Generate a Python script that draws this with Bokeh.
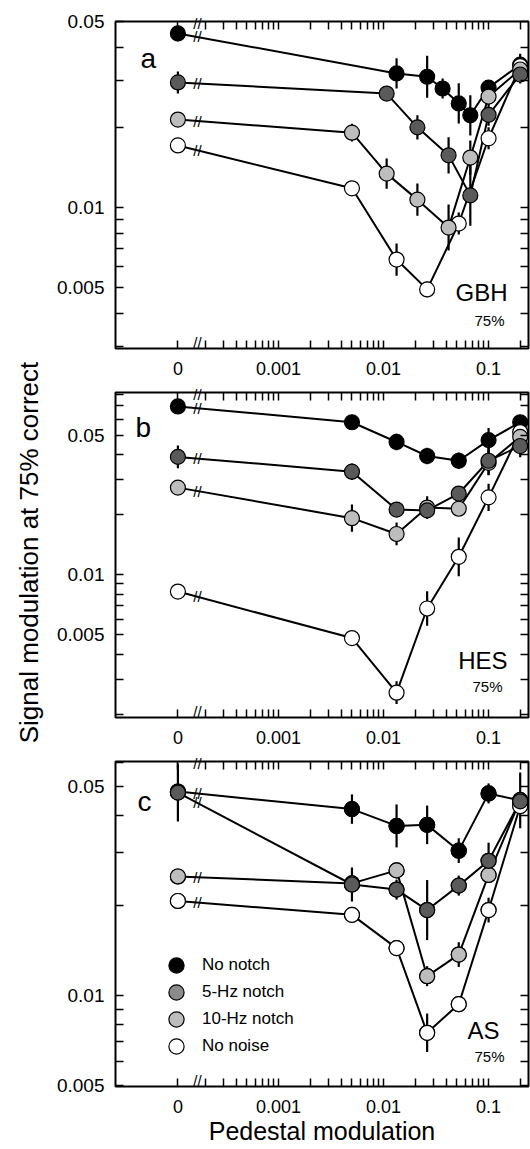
import math
from bokeh.plotting import figure
from bokeh.models import (ColumnDataSource, FixedTicker, LogAxis, Label, Legend, LegendItem,
                          CustomJSTickFormatter, Range1d)
from bokeh.layouts import row, column
from bokeh.embed import file_html
from bokeh.resources import INLINE
from bokeh.core.properties import value

FONT = "Liberation Sans"

# ---------------- data ----------------
ZERO = 1.1e-4          # plotted position of the "0" pedestal (broken axis)
BREAK_X = 1.69e-4      # position of the axis-break marks

SERIES_NAMES = ["No notch", "5-Hz notch", "10-Hz notch", "No noise"]
SERIES_FILL = ["#000000", "#5a5a5a", "#bdbdbd", "#ffffff"]
LEGEND_FILL = ["#000000", "#8c8c8c", "#bdbdbd", "#ffffff"]

X_TITLE = "Pedestal modulation"
Y_TITLE = "Signal modulation at 75% correct"

X_TICK_VALUES = [ZERO, 0.001, 0.01, 0.1]
X_TICK_LABELS = ["0", "0.001", "0.01", "0.1"]
X_MINOR_TICKS = [0.0002, 0.0003, 0.0004, 0.0005, 0.0006, 0.0007, 0.0008, 0.0009,
                 0.002, 0.003, 0.004, 0.005, 0.006, 0.007, 0.008, 0.009,
                 0.02, 0.03, 0.04, 0.05, 0.06, 0.07, 0.08, 0.09, 0.2]
Y_TICK_VALUES = [0.005, 0.01, 0.05]
Y_TICK_LABELS = ["0.005", "0.01", "0.05"]
Y_MINOR_A = [0.003, 0.004, 0.006, 0.007, 0.008, 0.009, 0.02, 0.03, 0.04]
Y_MINOR_B = [0.002, 0.003, 0.004, 0.006, 0.007, 0.008, 0.009, 0.02, 0.03, 0.04, 0.06, 0.07, 0.08]
Y_MINOR_C = [0.006, 0.007, 0.008, 0.009, 0.02, 0.03, 0.04, 0.06]

# Panel a (GBH)
A_X_NONOTCH = [ZERO, 0.0133, 0.026, 0.0365, 0.052, 0.067, 0.1, 0.2]
A_Y_NONOTCH = [0.0451, 0.0319, 0.031, 0.028, 0.0246, 0.0222, 0.0282, 0.0344]
A_E_NONOTCH = [1.07, 1.14, 1.2, 1.09, 1.19, 1.19, 1.05, 1.1]
A_X_5HZ = [ZERO, 0.0107, 0.021, 0.0416, 0.067, 0.1, 0.2]
A_Y_5HZ = [0.0295, 0.0268, 0.020, 0.0157, 0.0111, 0.0223, 0.0316]
A_E_5HZ = [1.1, 1.05, 1.11, 1.17, 1.3, 1.1, 1.08]
A_X_10HZ = [ZERO, 0.005, 0.0107, 0.021, 0.0416, 0.067, 0.1, 0.2]
A_Y_10HZ = [0.0214, 0.0191, 0.0134, 0.0107, 0.0084, 0.0154, 0.0261, 0.033]
A_E_10HZ = [1.05, 1.08, 1.14, 1.15, 1.22, 1.16, 1.05, 1.05]
A_X_NONOISE = [ZERO, 0.005, 0.0133, 0.026, 0.052, 0.1, 0.2]
A_Y_NONOISE = [0.0171, 0.0118, 0.00637, 0.00492, 0.0087, 0.0182, 0.034]
A_E_NONOISE = [1.03, 1.05, 1.15, 1.07, 1.1, 1.1, 1.05]

# Panel b (HES)
B_X = [ZERO, 0.005, 0.0133, 0.026, 0.052, 0.1, 0.2]
B_Y_NONOTCH = [0.0696, 0.058, 0.0462, 0.0393, 0.0372, 0.0472, 0.058]
B_E_NONOTCH = [1.06, 1.05, 1.1, 1.1, 1.1, 1.15, 1.08]
B_Y_5HZ = [0.0389, 0.0328, 0.0212, 0.0210, 0.0255, 0.0372, 0.0441]
B_E_5HZ = [1.14, 1.1, 1.05, 1.05, 1.05, 1.18, 1.14]
B_Y_10HZ = [0.0273, 0.0192, 0.016, 0.0217, 0.0214, 0.0363, 0.049]
B_E_10HZ = [1.05, 1.17, 1.14, 1.14, 1.05, 1.15, 1.05]
B_Y_NONOISE = [0.00824, 0.00482, 0.00257, 0.00678, 0.0123, 0.0244, 0.0518]
B_E_NONOISE = [1.03, 1.05, 1.14, 1.22, 1.25, 1.17, 1.05]

# Panel c (AS)
C_X = [ZERO, 0.005, 0.0133, 0.026, 0.052, 0.1, 0.2]
C_Y_NONOTCH = [0.0481, 0.0420, 0.0369, 0.0372, 0.0305, 0.0474, 0.0449]
C_E_NONOTCH = [1.05, 1.12, 1.18, 1.16, 1.1, 1.08, 1.24]
C_Y_5HZ = [0.0477, 0.0235, 0.0226, 0.0193, 0.0233, 0.0282, 0.0446]
C_E_5HZ = [1.25, 1.14, 1.08, 1.26, 1.08, 1.15, 1.05]
C_Y_10HZ = [0.0250, 0.0237, 0.0262, 0.0116, 0.0137, 0.0253, 0.045]
C_E_10HZ = [1.05, 1.05, 1.05, 1.08, 1.1, 1.05, 1.05]
C_Y_NONOISE = [0.0207, 0.0186, 0.0144, 0.0075, 0.00935, 0.0193, 0.0430]
C_E_NONOISE = [1.05, 1.05, 1.06, 1.16, 1.06, 1.1, 1.05]

# ---------------- layout ----------------
TITLE_W = 53
PANEL_W = 477
BORDER_L = 62
BORDER_R = 2
XMIN, XMAX = 2.8e-5, 0.24
PAGE_FRAME_L, PAGE_FRAME_R = 115, 528


def px2x(px):
    l0, l1 = math.log10(XMIN), math.log10(XMAX)
    return 10 ** (l0 + (px - PAGE_FRAME_L) / (PAGE_FRAME_R - PAGE_FRAME_L) * (l1 - l0))


def py2y(py, top, bottom, ymin, ymax):
    l0, l1 = math.log10(ymin), math.log10(ymax)
    return 10 ** (l1 - (py - top) / (bottom - top) * (l1 - l0))


def tick_formatter(vals, labs):
    return CustomJSTickFormatter(args=dict(vals=list(vals), labs=list(labs)), code="""
        for (let i = 0; i < vals.length; i++) {
            if (Math.abs(Math.log(vals[i] / tick)) < 1e-6) { return labs[i]; }
        }
        return '';
    """)


def style_axis(ax, size):
    ax.axis_line_color = None
    ax.major_tick_in = 8
    ax.major_tick_out = 0
    ax.minor_tick_in = 8
    ax.minor_tick_out = 0
    ax.major_tick_line_width = 1.5
    ax.minor_tick_line_width = 1.5
    ax.major_tick_line_color = "black"
    ax.minor_tick_line_color = "black"
    ax.major_label_text_font = FONT
    ax.major_label_text_font_size = size
    ax.major_label_text_color = "black"


def make_panel(height, btop, bbot, ymin, ymax, yminor, series, letter, subj, texts_px,
               page_top, page_bottom, legend_fills=None, x_title=None):
    p = figure(width=PANEL_W, height=height, x_axis_type="log", y_axis_type="log",
               x_range=Range1d(XMIN, XMAX), y_range=Range1d(ymin, ymax),
               toolbar_location=None, output_backend="svg", title=None,
               min_border_left=BORDER_L, min_border_right=BORDER_R,
               min_border_top=btop, min_border_bottom=bbot,
               outline_line_color="black", outline_line_width=2,
               background_fill_color="white", border_fill_color="white")
    p.grid.visible = False

    xa = p.xaxis[0]
    xa.ticker = FixedTicker(ticks=X_TICK_VALUES, minor_ticks=X_MINOR_TICKS)
    xa.formatter = tick_formatter(X_TICK_VALUES, X_TICK_LABELS)
    style_axis(xa, "18px")
    xa.major_label_standoff = 13
    if x_title:
        xa.axis_label = x_title
        xa.axis_label_text_font = FONT
        xa.axis_label_text_font_size = "25px"
        xa.axis_label_text_font_style = "normal"
        xa.axis_label_text_color = "black"
        xa.axis_label_standoff = 1

    ya = p.yaxis[0]
    ya.ticker = FixedTicker(ticks=Y_TICK_VALUES, minor_ticks=yminor)
    ya.formatter = tick_formatter(Y_TICK_VALUES, Y_TICK_LABELS)
    style_axis(ya, "19px")
    ya.major_label_standoff = 11

    # top axis: inward minor ticks, and the axis-break mark "//" as its only label
    top_ax = LogAxis(ticker=FixedTicker(ticks=[BREAK_X], minor_ticks=X_TICK_VALUES + X_MINOR_TICKS),
                     formatter=tick_formatter([BREAK_X], ["//"]))
    style_axis(top_ax, "15px")
    top_ax.major_tick_in = 0
    top_ax.major_label_standoff = -10
    p.add_layout(top_ax, "above")
    right_ax = LogAxis(ticker=FixedTicker(ticks=[], minor_ticks=Y_TICK_VALUES + yminor))
    style_axis(right_ax, "0px")
    right_ax.major_label_standoff = 0
    p.add_layout(right_ax, "right")

    # connecting lines
    for s in series:
        p.line(s["x"], s["y"], line_color="black", line_width=2)
    # error bars
    for s in series:
        src = ColumnDataSource(dict(x=s["x"], lo=[y / e for y, e in zip(s["y"], s["e"])],
                                    hi=[y * e for y, e in zip(s["y"], s["e"])]))
        p.segment(x0="x", y0="lo", x1="x", y1="hi", source=src, line_color="black", line_width=2.2)
    # break marks on each series line, and on the bottom frame edge
    bx, by = [], []
    for s in series:
        xs, ys = s["x"], s["y"]
        t = (math.log10(BREAK_X) - math.log10(xs[0])) / (math.log10(xs[1]) - math.log10(xs[0]))
        ly = math.log10(ys[0]) + t * (math.log10(ys[1]) - math.log10(ys[0]))
        bx.append(BREAK_X)
        by.append(10 ** ly)
    bx.append(BREAK_X)
    by.append(py2y(page_bottom - 6, page_top, page_bottom, ymin, ymax))
    p.text(x=bx, y=by, text=["//"] * len(bx), text_font=value(FONT), text_font_size=value("15px"),
           text_align="center", text_baseline="middle", text_color="black")

    # legend-key renderers (hidden beneath the real markers)
    legend_renderers = {}
    if legend_fills is not None:
        for s in series:
            legend_renderers[s["name"]] = p.scatter(
                s["x"], s["y"], marker="circle", size=15, fill_color=legend_fills[s["name"]],
                line_color="black", line_width=1.2)
    # markers
    for s in series:
        p.scatter(s["x"], s["y"], marker="circle", size=15, fill_color=s["fill"],
                  line_color="black", line_width=1.2)

    conv = lambda py: py2y(py, page_top, page_bottom, ymin, ymax)

    def add_text(px_, baseline_py, text, fs, align):
        # anchor at the middle of the text box (baseline - 0.346 em)
        p.add_layout(Label(x=px2x(px_), y=conv(baseline_py - 0.346 * fs), text=text, text_font=FONT,
                           text_font_size=f"{fs}px", text_align=align, text_baseline="middle",
                           text_color="black"))

    (lx, lyp), (sx, syp), (px_, pyp) = texts_px
    add_text(lx, lyp, letter, 28, "left")
    add_text(sx, syp, subj, 24, "right")
    add_text(px_, pyp, "75%", 15, "right")
    return p, legend_renderers


def series_list(x_lists, y_lists, e_lists):
    order = [0, 3, 2, 1]   # draw order: no notch, no noise, 10 Hz, 5 Hz
    return [dict(x=x_lists[i], y=y_lists[i], e=e_lists[i], fill=SERIES_FILL[i], name=SERIES_NAMES[i])
            for i in order]


sa = series_list([A_X_NONOTCH, A_X_5HZ, A_X_10HZ, A_X_NONOISE],
                 [A_Y_NONOTCH, A_Y_5HZ, A_Y_10HZ, A_Y_NONOISE],
                 [A_E_NONOTCH, A_E_5HZ, A_E_10HZ, A_E_NONOISE])
sb = series_list([B_X] * 4, [B_Y_NONOTCH, B_Y_5HZ, B_Y_10HZ, B_Y_NONOISE],
                 [B_E_NONOTCH, B_E_5HZ, B_E_10HZ, B_E_NONOISE])
sc = series_list([C_X] * 4, [C_Y_NONOTCH, C_Y_5HZ, C_Y_10HZ, C_Y_NONOISE],
                 [C_E_NONOTCH, C_E_5HZ, C_E_10HZ, C_E_NONOISE])

H_A, H_B = 382, 369
H_C = 1149 - H_A - H_B
fa, _ = make_panel(H_A, 21, 34, 0.00295, 0.05, Y_MINOR_A, sa, "a", "GBH",
                   [(140, 68), (507, 300), (504, 325)], 21, 348)
fb, _ = make_panel(H_B, 7, 34, 0.00193, 0.0817, Y_MINOR_B, sb, "b", "HES",
                   [(135, 434), (507, 668), (502, 691)], 389, 717)
fc, leg_r = make_panel(H_C, 7, H_C - 7 - 328, 0.00496, 0.0606, Y_MINOR_C, sc, "c", "AS",
                       [(137, 808), (499, 1038), (504, 1061)], 758, 1086,
                       legend_fills=dict(zip(SERIES_NAMES, LEGEND_FILL)), x_title=X_TITLE)

# legend (panel c): one single-entry legend per row so that the keys can be large
LEGEND_ROW_BOTTOMS = [102, 75, 48, 21]
for name, yb in zip(SERIES_NAMES, LEGEND_ROW_BOTTOMS):
    leg = Legend(items=[LegendItem(label=name, renderers=[leg_r[name]])], location=(42, yb),
                 orientation="vertical", padding=0, margin=0, border_line_color=None,
                 background_fill_alpha=0, glyph_width=38, glyph_height=38, spacing=0,
                 label_standoff=7, label_text_font=FONT, label_text_font_size="17px",
                 label_text_color="black", label_height=20)
    fc.add_layout(leg)

# y-axis title strip
ft = figure(width=TITLE_W, height=1149, x_range=Range1d(0, TITLE_W), y_range=Range1d(0, 1149),
            toolbar_location=None, output_backend="svg", x_axis_location=None, y_axis_location=None,
            title=None, min_border=0, min_border_left=0, min_border_right=0, min_border_top=0,
            min_border_bottom=0, outline_line_color=None)
ft.grid.visible = False
ft.add_layout(Label(x=28.5, y=597, text=Y_TITLE, angle=math.pi / 2,
                    text_font=FONT, text_font_size="26px", text_align="center",
                    text_baseline="middle", text_color="black"))

layout = row(ft, column(fa, fb, fc, spacing=0), spacing=0)
open("out.html", "w").write(file_html(layout, INLINE))
